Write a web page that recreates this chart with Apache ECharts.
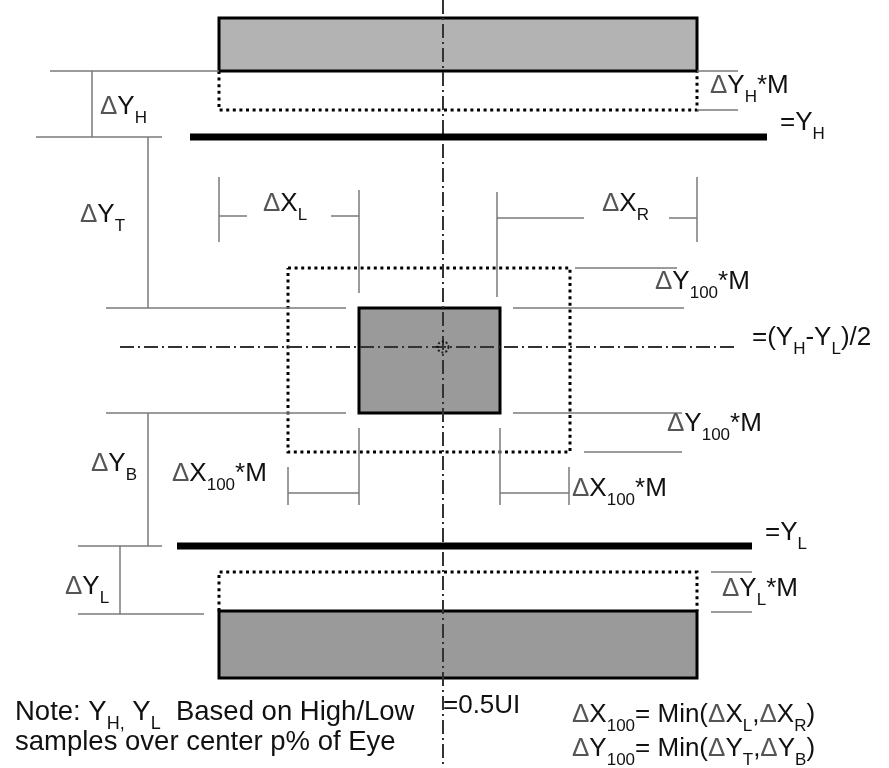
<!DOCTYPE html>
<html><head><meta charset="utf-8">
<style>html,body{margin:0;padding:0;background:#fff}#c{width:889px;height:768px}</style>
<script src="https://cdn.jsdelivr.net/npm/echarts@6/dist/echarts.min.js"></script>
</head><body><div id="c"></div>
<script>
// Diagram units (x to the right, y downward).
const solidRects = [[219, 697, 18, 71], [359, 500, 308, 413], [219, 697, 611, 678]]; // x0,x1,y0,y1
const rectFills = ['#b3b3b3', '#9a9a9a', '#9a9a9a'];
const maskOutlines = [
  [[219, 71], [219, 110], [697, 110], [697, 71]],
  [[288, 268], [570, 268], [570, 452], [288, 452], [288, 268]],
  [[219, 611], [219, 572], [697, 572], [697, 611]]
];
const levelLines = [[[190, 137], [767, 137]], [[177, 546], [752, 546]]];
const centerLines = [[[443, 0], [443, 768]], [[120, 347], [735, 347]]];
const centerMark = [[443, 347]];
const dimLines = [
  [[50, 71], [219, 71]], [[36, 137], [162, 137]], [[92, 71], [92, 137]], [[148, 137], [148, 308]],
  [[697, 71], [738, 71]], [[697, 110], [738, 110]],
  [[219, 177], [219, 242]], [[219, 216], [247, 216]], [[331, 216], [359, 216]], [[359, 190], [359, 293]],
  [[497, 192], [497, 297]], [[697, 177], [697, 242]], [[497, 218], [584, 218]], [[669, 218], [697, 218]],
  [[106, 308], [346, 308]], [[513, 308], [684, 308]], [[106, 413], [346, 413]], [[513, 413], [682, 413]],
  [[575, 268], [677, 268]], [[584, 452], [682, 452]], [[148, 413], [148, 546]],
  [[288, 467], [288, 505]], [[359, 428], [359, 505]], [[288, 493], [359, 493]],
  [[500, 428], [500, 505]], [[569, 467], [569, 505]], [[500, 493], [569, 493]],
  [[78, 546], [162, 546]], [[120, 546], [120, 614]], [[78, 614], [204, 614]],
  [[711, 572], [752, 572]], [[711, 612], [752, 612]]
];
const labelX = [100, 710, 780, 80, 263, 602, 655, 752, 667, 91, 172, 572, 765, 65, 722, 443, 15, 15, 572, 572];
const labelY = [107, 86, 123, 215, 204, 204, 282, 338, 424, 464, 474, 489, 533, 587, 589, 706, 712, 742, 715, 749];
const labelText = [
  '{d|Δ}Y{s|H}', '{d|Δ}Y{s|H}*M', '=Y{s|H}', '{d|Δ}Y{s|T}', '{d|Δ}X{s|L}', '{d|Δ}X{s|R}',
  '{d|Δ}Y{s|100}*M', '=(Y{s|H}-Y{s|L})/2', '{d|Δ}Y{s|100}*M', '{d|Δ}Y{s|B}', '{d|Δ}X{s|100}*M',
  '{d|Δ}X{s|100}*M', '=Y{s|L}', '{d|Δ}Y{s|L}', '{d|Δ}Y{s|L}*M', '=0.5UI',
  '{n|Note: Y}{ns|H,}{n| Y}{ns|L}{n|  Based on High/Low}', '{n|samples over center p% of Eye}',
  '{d|Δ}X{s|100}= Min({d|Δ}X{s|L},{d|Δ}X{s|R})', '{d|Δ}Y{s|100}= Min({d|Δ}Y{s|T},{d|Δ}Y{s|B})'
];

const FONT = '"Liberation Sans", Arial, sans-serif';
const rich = {
  d: {fontSize: 26, fontFamily: FONT, fill: '#555', lineHeight: 30},
  s: {fontSize: 17, fontFamily: FONT, fill: '#111', lineHeight: 30, verticalAlign: 'top', padding: [18, 0, 0, 0]},
  n: {fontSize: 27.5, fontFamily: FONT, fill: '#111', lineHeight: 30},
  ns: {fontSize: 18, fontFamily: FONT, fill: '#111', lineHeight: 30, verticalAlign: 'top', padding: [18, 0, 0, 0]}
};

const chart = echarts.init(document.getElementById('c'), null, {renderer: 'canvas'});
chart.setOption({
  animation: false,
  backgroundColor: '#fff',
  grid: {left: 0, right: 0, top: 0, bottom: 0},
  xAxis: {type: 'value', min: 0, max: 889, show: false},
  yAxis: {type: 'value', min: 0, max: 768, inverse: true, show: false},
  series: [
    {
      type: 'custom', z: 1, silent: true,
      data: solidRects.map((r, i) => [r[0], r[2], r[1], r[3], i]),
      encode: {x: [0, 2], y: [1, 3]},
      renderItem: (params, api) => {
        const p0 = api.coord([api.value(0), api.value(1)]);
        const p1 = api.coord([api.value(2), api.value(3)]);
        return {type: 'rect', shape: {x: p0[0], y: p0[1], width: p1[0] - p0[0], height: p1[1] - p0[1]},
          style: {fill: rectFills[api.value(4)], stroke: '#000', lineWidth: 3}};
      }
    },
    {
      type: 'lines', coordinateSystem: 'cartesian2d', polyline: true, z: 2, silent: true,
      data: maskOutlines.map(c => ({coords: c})),
      lineStyle: {color: '#000', width: 3, opacity: 1, type: [3, 3.6], cap: 'butt'}
    },
    {
      type: 'lines', coordinateSystem: 'cartesian2d', polyline: true, z: 2, silent: true,
      data: dimLines.map(c => ({coords: c})),
      lineStyle: {color: '#7a7a7a', width: 1.5, opacity: 1}
    },
    {
      type: 'lines', coordinateSystem: 'cartesian2d', polyline: true, z: 3, silent: true,
      data: centerLines.map(c => ({coords: c})),
      lineStyle: {color: '#333', width: 2, opacity: 1, type: [14, 4, 2, 4], cap: 'butt'}
    },
    {
      type: 'lines', coordinateSystem: 'cartesian2d', polyline: true, z: 4, silent: true,
      data: levelLines.map(c => ({coords: c})),
      lineStyle: {color: '#000', width: 7, opacity: 1, cap: 'butt'}
    },
    {
      type: 'scatter', z: 5, silent: true, data: centerMark, symbol: 'circle', symbolSize: 11,
      itemStyle: {color: 'rgba(0,0,0,0)', borderColor: '#000', borderWidth: 2, borderType: [2, 2]}
    },
    {
      type: 'custom', z: 6, silent: true,
      data: labelX.map((x, i) => [x, labelY[i], i]),
      encode: {x: 0, y: 1},
      renderItem: (params, api) => {
        const p = api.coord([api.value(0), api.value(1)]);
        return {type: 'text', x: p[0], y: p[1],
          style: {text: labelText[api.value(2)], fontSize: 26, fontFamily: FONT, fill: '#111',
            lineHeight: 30, align: 'left', verticalAlign: 'middle', rich: rich}};
      }
    }
  ]
});
</script></body></html>
